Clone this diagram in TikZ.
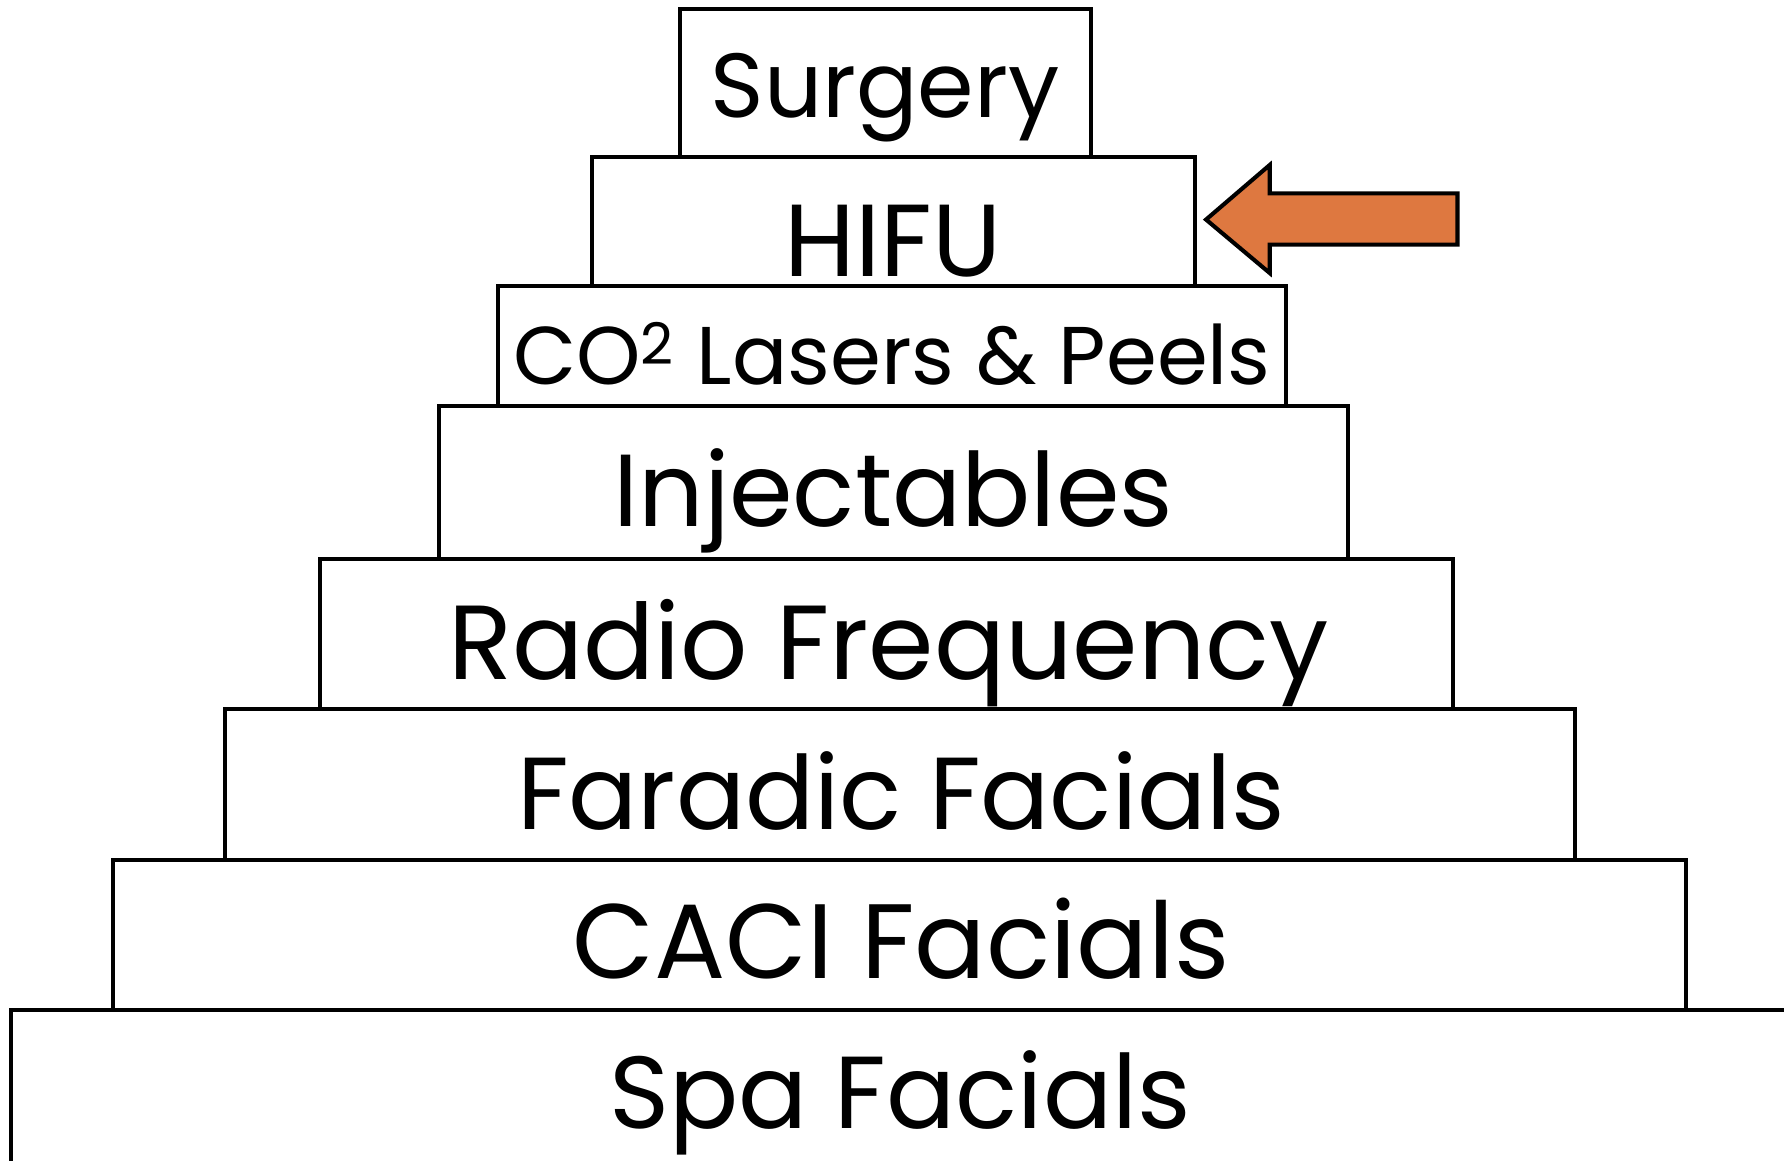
\documentclass[tikz,border=0pt]{standalone}
\usepackage{fontspec}
\setmainfont{Poppins}
\definecolor{arroworange}{RGB}{222,120,64}
\begin{document}
\begin{tikzpicture}[x=0.5pt,y=-0.5pt,
  tier/.style={draw=black,line width=1.8pt,fill=white,rectangle,inner sep=0pt},
  lbl/.style={anchor=base,inner sep=0pt,font=\fontsize{45}{50}\selectfont}]
\useasboundingbox (0,0) rectangle (1568,1020);
\clip (0,0) rectangle (1568,1020);
% boxes (bottom first)
\draw[tier] (10,888) rectangle (1590,1040);
\node[tier,minimum width=691.5pt,minimum height=66pt] (caci) at (790.5,822) {};
\node[tier,minimum width=593pt,minimum height=66.5pt] (faradic) at (791,689.5) {};
\node[tier,minimum width=498pt,minimum height=66pt] (radio) at (779,557) {};
\node[tier,minimum width=399.5pt,minimum height=67pt] (inject) at (785.5,424) {};
\node[tier,minimum width=346pt,minimum height=53pt] (co2) at (784,304) {};
\node[tier,minimum width=265pt,minimum height=56.5pt] (hifu) at (785,194.5) {};
\node[tier,minimum width=180.5pt,minimum height=65pt] (surgery) at (778.5,73) {};
% labels
\node[lbl] (spaT) at (791,992) {Spa Facials};
\node[lbl,font=\fontsize{46.5}{50}\selectfont] (caciT) at (792,860) {CACI Facials};
\node[lbl] (faradicT) at (792,729) {Faradic Facials};
\node[lbl,font=\fontsize{46.3}{50}\selectfont] (radioT) at (781,597) {Radio Frequency};
\node[lbl] (injectT) at (785,463) {Injectables};
\node[lbl,font=\fontsize{36}{40}\selectfont] (co2T) at (784,338) {CO\textsuperscript{2} Lasers \& Peels};
\node[lbl] (hifuT) at (785,243) {HIFU};
\node[lbl,font=\fontsize{40}{44}\selectfont] (surgeryT) at (778,103) {Surgery};
% arrow
\coordinate (tip) at (1060,193);
\draw[line width=1.8pt,fill=arroworange,line join=miter]
  (tip) -- (1116,145) -- (1116,170) -- (1281,170) -- (1281,215) -- (1116,215) -- (1116,240) -- cycle;
\end{tikzpicture}
\end{document}
